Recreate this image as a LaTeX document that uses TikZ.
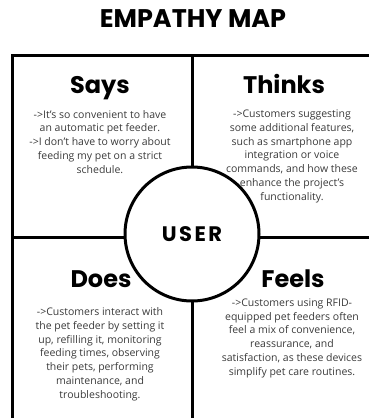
\documentclass[tikz,border=0pt]{standalone}
\usepackage{fontspec}
\setmainfont{Open Sans}
\newfontfamily\headfont{Poppins}
\newfontfamily\userfont{Poppins}[LetterSpace=12]
\usepackage{xcolor}
\definecolor{bodygrey}{HTML}{3A3A3A}
\usetikzlibrary{positioning}

\begin{document}
\begin{tikzpicture}[x=1pt,y=-1pt,
    heading/.style={font=\headfont\bfseries\fontsize{24}{28}\selectfont,anchor=base,inner sep=0pt},
    bodytext/.style={font=\fontsize{10.5}{13.7}\selectfont,text=bodygrey,align=center,anchor=base,inner sep=0pt},
    frame/.style={line width=3pt}]
  \useasboundingbox (0,0) rectangle (368,418);

  \node[font=\headfont\bfseries\fontsize{25.5}{30}\selectfont,anchor=base,inner sep=0pt] (title) at (193,27) {EMPATHY MAP};

  % quadrant lines
  \draw[frame] (12,422) -- (12,55) -- (372,55);
  \draw[frame] (192,55) -- (192,422);
  \draw[frame] (12,237) -- (372,237);

  \node[circle,draw,line width=3pt,fill=white,minimum size=134pt,
        font=\userfont\bfseries\fontsize{21}{24}\selectfont] (user) at (192,234) {USER};

  \node[heading] (says)   at (100,93)  {Says};
  \node[heading] (thinks) at (284,93)  {Thinks};
  \node[heading] (does)   at (101,287) {Does};
  \node[heading] (feels)  at (293,287) {Feels};

  % body text, anchored at the baseline of the last line
  \node[bodytext] (saystext) at (100,173)
    {->It's so convenient to have\\an automatic pet feeder.\\->I don't have to worry about\\feeding my pet on a strict\\schedule.};
  \node[bodytext] (thinkstext) at (292,200)
    {->Customers suggesting\\some additional features,\\such as smartphone app\\integration or voice\\commands, and how these\\enhance the project's\\functionality.};
  \node[bodytext] (doestext) at (100,398)
    {->Customers interact with\\the pet feeder by setting it\\up, refilling it, monitoring\\feeding times, observing\\their pets, performing\\maintenance, and\\troubleshooting.};
  \node[bodytext] (feelstext) at (292,375)
    {->Customers using RFID-\\equipped pet feeders often\\feel a mix of convenience,\\reassurance, and\\satisfaction, as these devices\\simplify pet care routines.};
\end{tikzpicture}
\end{document}
